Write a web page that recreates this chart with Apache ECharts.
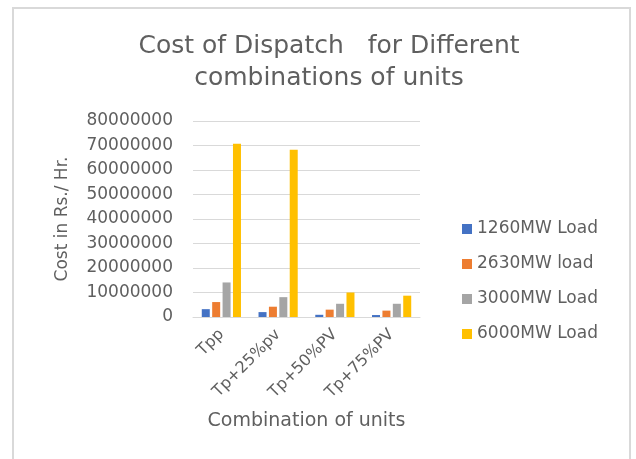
<!DOCTYPE html>
<html>
<head>
<meta charset="utf-8">
<script src="https://cdn.jsdelivr.net/npm/echarts@6/dist/echarts.min.js"></script>
<style>html,body{margin:0;padding:0;background:#fff}#c{width:636px;height:459px}</style>
</head>
<body>
<div id="c"></div>
<script>
var categories = ['Tpp', 'Tp+25%pv', 'Tp+50%PV', 'Tp+75%PV'];
var seriesNames = ['1260MW Load', '2630MW load', '3000MW Load', '6000MW Load'];
var load1260 = [3200000, 2000000, 900000, 800000];
var load2630 = [6100000, 4200000, 3000000, 2600000];
var load3000 = [14100000, 8100000, 5400000, 5400000];
var load6000 = [70700000, 68300000, 10000000, 8700000];
var colors = ['#4472C4', '#ED7D31', '#A5A5A5', '#FFC000'];
var titleText = 'Cost of Dispatch   for Different\ncombinations of units';
var yName = 'Cost in Rs./ Hr.';
var xName = 'Combination of units';

var FONT = 'DejaVu Sans';
var allData = [load1260, load2630, load3000, load6000];
var chart = echarts.init(document.getElementById('c'));
chart.setOption({
  animation: false,
  color: colors,
  textStyle: {fontFamily: FONT},
  graphic: [{type: 'rect', shape: {x: 13, y: 8, width: 617, height: 470}, style: {fill: 'none', stroke: '#d9d9d9', lineWidth: 2}, silent: true}],
  title: {
    text: titleText, left: 324, top: 25, textAlign: 'center',
    textStyle: {fontFamily: FONT, fontSize: 25, fontWeight: 'normal', color: '#5f5f5f', lineHeight: 32}
  },
  legend: {
    orient: 'vertical', left: 457, top: 214, itemWidth: 10, itemHeight: 10, itemGap: 15,
    icon: 'rect',
    textStyle: {fontFamily: FONT, fontSize: 17, color: '#5f5f5f', lineHeight: 20},
    data: seriesNames
  },
  grid: {left: 193, right: 216, top: 121, bottom: 142},
  xAxis: {
    type: 'category', data: categories,
    axisLine: {lineStyle: {color: '#d9d9d9'}}, axisTick: {show: false},
    axisLabel: {rotate: 45, fontSize: 16, color: '#5f5f5f', margin: 15, fontFamily: FONT},
    name: xName, nameLocation: 'middle', nameGap: 95,
    nameTextStyle: {fontSize: 19, color: '#5f5f5f', fontFamily: FONT}
  },
  yAxis: {
    type: 'value', min: 0, max: 80000000, interval: 10000000,
    axisLabel: {fontSize: 17, color: '#5f5f5f', margin: 20, fontFamily: FONT, formatter: function (v) { return String(v); }},
    splitLine: {lineStyle: {color: '#d9d9d9'}},
    axisLine: {show: false}, axisTick: {show: false},
    name: yName, nameLocation: 'middle', nameGap: 122,
    nameTextStyle: {fontSize: 17, color: '#5f5f5f', fontFamily: FONT}
  },
  series: seriesNames.map(function (n, i) {
    return {name: n, type: 'bar', data: allData[i], barWidth: 8, barGap: '30%', barCategoryGap: '31%'};
  })
});
</script>
</body>
</html>
